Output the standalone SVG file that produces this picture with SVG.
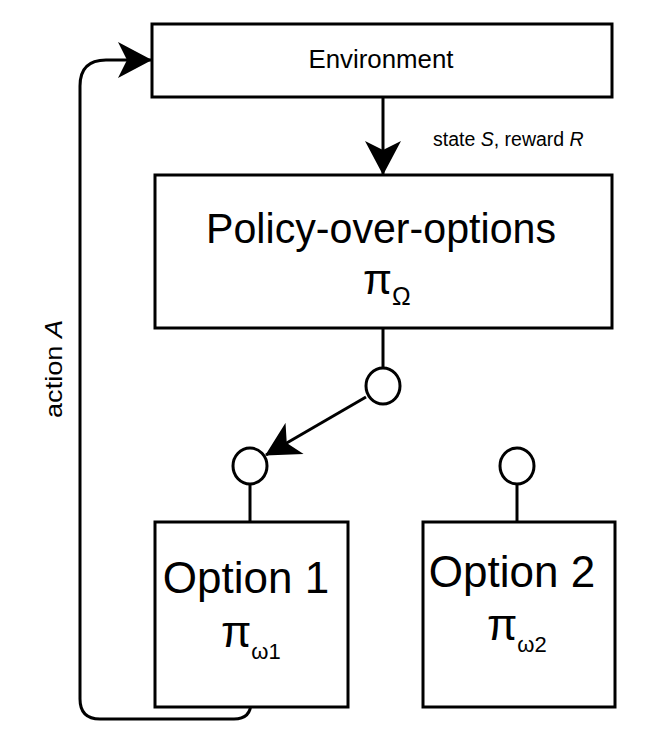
<svg xmlns="http://www.w3.org/2000/svg" width="660" height="734" viewBox="0 0 660 734">
<style>
.box{fill:#fff;stroke:#000;stroke-width:3}
.port{fill:#fff;stroke:#000;stroke-width:3}
.edge{fill:none;stroke:#000;stroke-width:3}
.t{font-family:"Liberation Sans",Arial,Helvetica,sans-serif;fill:#000}
</style>
<defs>
<marker id="arr" markerUnits="userSpaceOnUse" markerWidth="36" markerHeight="36" viewBox="0 0 34 36" refX="33" refY="18" orient="auto">
<path d="M0,0 L34,18 L0,36 L9,18 Z" fill="#000"/>
</marker>
</defs>
<rect width="660" height="734" fill="#fff"/>
<g id="connectors">
<line class="edge" x1="383" y1="97" x2="383" y2="174" marker-end="url(#arr)"/>
<line class="edge" x1="383" y1="328" x2="383" y2="367"/>
<line class="edge" x1="366" y1="397" x2="266" y2="455" marker-end="url(#arr)"/>
<line class="edge" x1="250" y1="484" x2="250" y2="522"/>
<line class="edge" x1="517" y1="484" x2="517" y2="522"/>
<path class="edge" d="M251,707 V702 Q251,719 234,719 H100 Q80,719 80,699 V86 Q80,60 106,60 H151" marker-end="url(#arr)"/>
<text class="t" x="433" y="146" font-size="19.5">state <tspan font-style="italic">S</tspan>, reward <tspan font-style="italic">R</tspan></text>
<text class="t" transform="translate(62,369) rotate(-90)" text-anchor="middle" font-size="24" textLength="98" lengthAdjust="spacingAndGlyphs">action <tspan font-style="italic">A</tspan></text>
</g>
<g id="environment">
<rect class="box" x="152" y="24" width="460" height="73"/>
<text class="t" x="381" y="68" text-anchor="middle" font-size="25" textLength="145" lengthAdjust="spacingAndGlyphs">Environment</text>
</g>
<g id="policy">
<rect class="box" x="155" y="175" width="457" height="153"/>
<text class="t" x="381" y="243" text-anchor="middle" font-size="42" textLength="350" lengthAdjust="spacingAndGlyphs">Policy-over-options</text>
<text class="t" x="363" y="294" font-size="42">π<tspan font-size="25" dy="11">Ω</tspan></text>
</g>
<g id="switch">
<ellipse class="port" cx="383" cy="386" rx="17" ry="18"/>
</g>
<g id="port1">
<ellipse class="port" cx="250" cy="466" rx="17" ry="18"/>
</g>
<g id="port2">
<ellipse class="port" cx="517" cy="466" rx="17" ry="18"/>
</g>
<g id="option1">
<rect class="box" x="155" y="522" width="193" height="185"/>
<text class="t" x="246" y="593" text-anchor="middle" font-size="44">Option 1</text>
<text class="t" x="221" y="647" font-size="44">π<tspan font-size="22" dy="12">ω1</tspan></text>
</g>
<g id="option2">
<rect class="box" x="423" y="522" width="192" height="185"/>
<text class="t" x="512" y="587" text-anchor="middle" font-size="44">Option 2</text>
<text class="t" x="487" y="640" font-size="44">π<tspan font-size="22" dy="12">ω2</tspan></text>
</g>
</svg>
